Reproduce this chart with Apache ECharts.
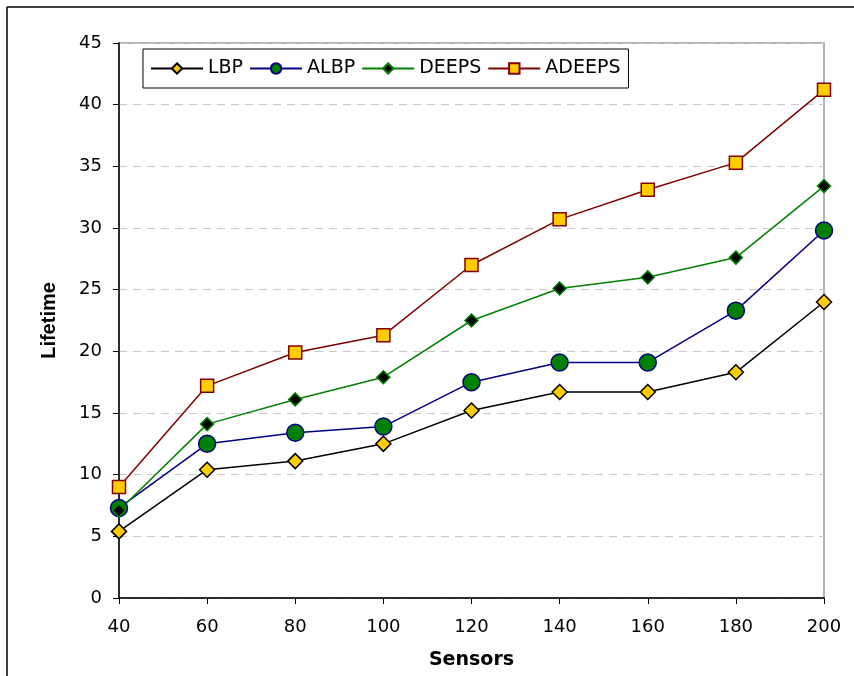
<!DOCTYPE html>
<html><head><meta charset="utf-8">
<script src="https://cdn.jsdelivr.net/npm/echarts@6/dist/echarts.min.js"></script>
<style>html,body{margin:0;padding:0;background:#fff}#c{width:854px;height:676px}</style>
</head><body><div id="c"></div>
<script>
const sensors = [40, 60, 80, 100, 120, 140, 160, 180, 200];
const lbp    = [5.4, 10.4, 11.1, 12.5, 15.2, 16.7, 16.7, 18.3, 24.0];
const albp   = [7.3, 12.5, 13.4, 13.9, 17.5, 19.1, 19.1, 23.3, 29.8];
const deeps  = [7.1, 14.1, 16.1, 17.9, 22.5, 25.1, 26.0, 27.6, 33.4];
const adeeps = [9.0, 17.2, 19.9, 21.3, 27.0, 30.7, 33.1, 35.3, 41.2];
const names = ['LBP', 'ALBP', 'DEEPS', 'ADEEPS'];

const pair = arr => sensors.map((s, i) => [s, arr[i]]);
const chart = echarts.init(document.getElementById('c'));
const font = '"DejaVu Sans", Arial, sans-serif';
const arial = 'Arial, "Liberation Sans", sans-serif';
function mk(name, data, lineColor, symbol, size, fill, border) {
  return {
    name, type: 'line', data: pair(data), symbol, symbolSize: size,
    lineStyle: { color: lineColor, width: 1.5 },
    itemStyle: { color: fill, borderColor: border, borderWidth: 1.5 },
    emphasis: { disabled: true }, z: 3
  };
}
chart.setOption({
  animation: false,
  grid: { left: 119, right: 30, top: 43, bottom: 78, show: true, borderColor: '#999', borderWidth: 1.5 },
  legend: {
    left: 143, top: 49, padding: [10, 8, 10, 7],
    borderColor: '#000', borderWidth: 1, itemGap: 6, itemWidth: 52, itemHeight: 13,
    textStyle: { fontFamily: font, fontSize: 19, color: '#000' },
    data: names
  },
  xAxis: {
    type: 'value', min: 40, max: 200, interval: 20,
    name: 'Sensors', nameLocation: 'middle', nameGap: 53,
    nameTextStyle: { fontFamily: font, fontSize: 19, fontWeight: 'bold', color: '#000' },
    axisLine: { lineStyle: { color: '#000', width: 1.5 } },
    axisTick: { show: true, inside: false, length: 6, lineStyle: { color: '#000' } },
    axisLabel: { fontFamily: font, fontSize: 18, color: '#000', margin: 20 },
    splitLine: { show: false }
  },
  yAxis: {
    type: 'value', min: 0, max: 45, interval: 5,
    name: 'Lifetime', nameLocation: 'middle', nameGap: 60, nameRotate: 90,
    nameTextStyle: { fontFamily: arial, fontSize: 20, fontWeight: 'bold', color: '#000' },
    axisLine: { show: true, lineStyle: { color: '#000', width: 1.5 } },
    axisTick: { show: true, inside: false, length: 6, lineStyle: { color: '#000' } },
    axisLabel: { fontFamily: font, fontSize: 18, color: '#000', margin: 17 },
    splitLine: { show: true, lineStyle: { color: '#c8c8c8', type: [8, 6], width: 1 } }
  },
  graphic: [
    { type: 'line', shape: { x1: 7, y1: 7, x2: 854, y2: 7 }, style: { stroke: '#000', lineWidth: 1.5 } },
    { type: 'line', shape: { x1: 7, y1: 7, x2: 7, y2: 676 }, style: { stroke: '#000', lineWidth: 1.5 } }
  ],
  series: [
    mk('LBP', lbp, '#000', 'diamond', 15, '#FFCC00', '#000'),
    mk('ALBP', albp, '#000080', 'circle', 17, '#008000', '#000080'),
    mk('DEEPS', deeps, '#008000', 'diamond', 13, '#000', '#008000'),
    mk('ADEEPS', adeeps, '#800000', 'rect', 13, '#FFCC00', '#800000')
  ]
});
</script></body></html>
